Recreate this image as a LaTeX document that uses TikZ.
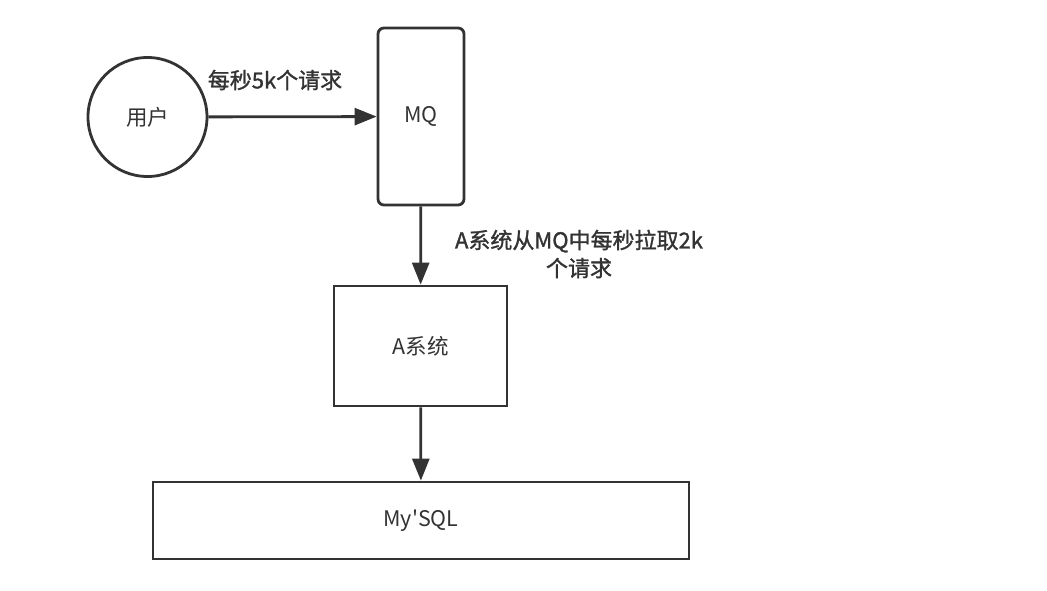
\documentclass[tikz,border=0pt]{standalone}
\usepackage{fontspec}
\setmainfont{Noto Sans CJK SC}
\newfontfamily\lblfont[FakeBold=1.3]{Noto Sans CJK SC}
\usetikzlibrary{arrows.meta}
\definecolor{ln}{HTML}{333333}
\tikzset{
  box/.style={draw=ln, line width=2.8pt, text=ln, font=\fontsize{21.5}{24}\selectfont, inner sep=0pt},
  conn/.style={draw=ln, line width=2.8pt, -{Triangle[length=22pt,width=17pt]}},
  lbl/.style={text=ln, font=\lblfont\fontsize{22}{28}\selectfont, align=center, inner sep=0pt}
}
\begin{document}
\begin{tikzpicture}[x=1pt,y=-1pt]
\useasboundingbox[fill=white] (0,0) rectangle (1047,590);
\node[box, circle, minimum size=119pt] (user) at (147.5,117) {用户};
\node[box, rounded corners=6pt, minimum width=86pt, minimum height=177pt] (mq) at (421,116.5) {MQ};
\node[box, minimum width=173pt, minimum height=120pt] (a) at (420.5,346) {A系统};
\node[box, minimum width=536pt, minimum height=77pt] (db) at (421,520.5) {My\textquotesingle SQL};
\draw[conn] (user) -- (mq);
\draw[conn] (mq) -- (a);
\draw[conn] (a) -- (db);
\node[lbl] (l1) at (275,80) {每秒5k个请求};
\node[lbl] (l2) at (579,254) {A系统从MQ中每秒拉取2k\\个请求};
\end{tikzpicture}
\end{document}
